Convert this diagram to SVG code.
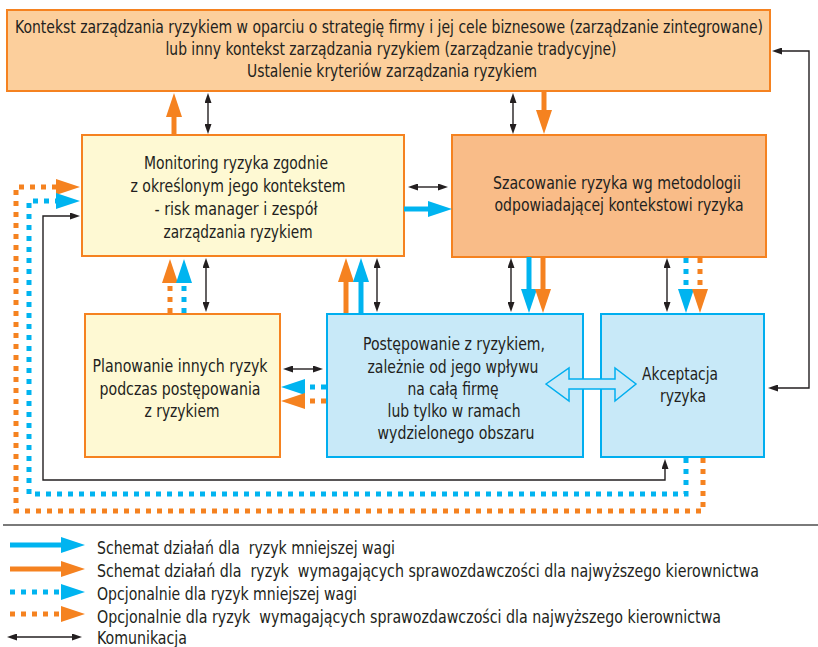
<svg xmlns="http://www.w3.org/2000/svg" width="818" height="647" viewBox="0 0 818 647">
<style>
text{font-family:"Liberation Sans Narrow","DejaVu Sans Condensed","Liberation Sans",sans-serif;font-size:18px;fill:#231F20;text-anchor:middle;white-space:pre}
.lg{text-anchor:start}
.box{stroke-width:2}
.or{stroke:#F58220}
.bl{stroke:#00AEEF}
.sol{fill:none;stroke-width:5}
.dot{fill:none;stroke-width:5;stroke-dasharray:5 6}
.com{fill:none;stroke:#231F20;stroke-width:1.4}
</style>
<defs>
<marker id="hO" markerUnits="userSpaceOnUse" markerWidth="24" markerHeight="16" refX="1" refY="8" orient="auto"><path d="M0,0 L24,8 L0,16 z" fill="#F58220"/></marker>
<marker id="hB" markerUnits="userSpaceOnUse" markerWidth="24" markerHeight="16" refX="1" refY="8" orient="auto"><path d="M0,0 L24,8 L0,16 z" fill="#00B4F0"/></marker>
<marker id="hK" markerUnits="userSpaceOnUse" markerWidth="10" markerHeight="7" refX="1" refY="3.5" orient="auto-start-reverse"><path d="M0,0 L10,3.5 L0,7 z" fill="#231F20"/></marker>
</defs>

<g id="node-kontekst">
<rect class="box or" x="7" y="10" width="763" height="81" fill="#FCCF9C"/>
<text x="389" y="33" textLength="748" lengthAdjust="spacingAndGlyphs">Kontekst zarządzania ryzykiem w oparciu o strategię firmy i jej cele biznesowe (zarządzanie zintegrowane)</text>
<text x="391" y="55" textLength="451" lengthAdjust="spacingAndGlyphs">lub inny kontekst zarządzania ryzykiem (zarządzanie tradycyjne)</text>
<text x="392" y="77" textLength="290" lengthAdjust="spacingAndGlyphs">Ustalenie kryteriów zarządzania ryzykiem</text>
</g>

<g id="node-monitoring">
<rect class="box or" x="82" y="135" width="322" height="121" fill="#FEF9D3"/>
<text x="236" y="169" textLength="184" lengthAdjust="spacingAndGlyphs">Monitoring ryzyka zgodnie</text>
<text x="238" y="192" textLength="215" lengthAdjust="spacingAndGlyphs">z określonym jego kontekstem</text>
<text x="236" y="215" textLength="163" lengthAdjust="spacingAndGlyphs">- risk manager i zespół</text>
<text x="238" y="238" textLength="149" lengthAdjust="spacingAndGlyphs">zarządzania ryzykiem</text>
</g>

<g id="node-szacowanie">
<rect class="box or" x="452" y="135" width="314" height="122" fill="#F9BC88"/>
<text x="617" y="189" textLength="248" lengthAdjust="spacingAndGlyphs">Szacowanie ryzyka wg metodologii</text>
<text x="619" y="211" textLength="249" lengthAdjust="spacingAndGlyphs">odpowiadającej kontekstowi ryzyka</text>
</g>

<g id="node-planowanie">
<rect class="box or" x="85" y="314" width="195" height="143" fill="#FEF9D3"/>
<text x="180" y="372" textLength="175" lengthAdjust="spacingAndGlyphs">Planowanie innych ryzyk</text>
<text x="180" y="395" textLength="161" lengthAdjust="spacingAndGlyphs">podczas postępowania</text>
<text x="182" y="417" textLength="75" lengthAdjust="spacingAndGlyphs">z ryzykiem</text>
</g>

<g id="node-postepowanie">
<rect class="box bl" x="327" y="314" width="256" height="143" fill="#C8E9F8"/>
<text x="454" y="350" textLength="182" lengthAdjust="spacingAndGlyphs">Postępowanie z ryzykiem,</text>
<text x="453" y="373" textLength="171" lengthAdjust="spacingAndGlyphs">zależnie od jego wpływu</text>
<text x="453" y="395" textLength="91" lengthAdjust="spacingAndGlyphs">na całą firmę</text>
<text x="454" y="417" textLength="133" lengthAdjust="spacingAndGlyphs">lub tylko w ramach</text>
<text x="456" y="439" textLength="157" lengthAdjust="spacingAndGlyphs">wydzielonego obszaru</text>
</g>

<g id="node-akceptacja">
<rect class="box bl" x="601" y="314" width="163" height="143" fill="#C8E9F8"/>
<text x="680" y="380" textLength="76" lengthAdjust="spacingAndGlyphs">Akceptacja</text>
<text x="683" y="402" textLength="46" lengthAdjust="spacingAndGlyphs">ryzyka</text>
</g>

<g id="connectors">
<path class="sol or" d="M174,135 V116" marker-end="url(#hO)"/>
<path class="com" d="M208,102 V125" marker-start="url(#hK)" marker-end="url(#hK)"/>
<path class="com" d="M513,102 V125" marker-start="url(#hK)" marker-end="url(#hK)"/>
<path class="sol or" d="M544,91 V111" marker-end="url(#hO)"/>
<path class="com" d="M417,187 H439" marker-start="url(#hK)" marker-end="url(#hK)"/>
<path class="sol bl" style="stroke:#00B4F0" d="M404,209 H429" marker-end="url(#hB)"/>
<path class="dot or" d="M703,458 V511 H16 V187 H57" marker-end="url(#hO)"/>
<path class="dot bl" style="stroke:#00B4F0" d="M686,458 V494 H29 V201 H57" marker-end="url(#hB)"/>
<path class="com" d="M665,468 V480 H43 V216 H71" marker-start="url(#hK)" marker-end="url(#hK)"/>
<path class="com" d="M781,51 H809 V388 H777" marker-start="url(#hK)" marker-end="url(#hK)"/>
<path class="dot or" d="M170,313 V282" marker-end="url(#hO)"/>
<path class="dot bl" style="stroke:#00B4F0" d="M184,313 V282" marker-end="url(#hB)"/>
<path class="com" d="M206,267 V303" marker-start="url(#hK)" marker-end="url(#hK)"/>
<path class="sol or" d="M346,313 V281" marker-end="url(#hO)"/>
<path class="sol bl" style="stroke:#00B4F0" d="M361,313 V281" marker-end="url(#hB)"/>
<path class="com" d="M377,267 V303" marker-start="url(#hK)" marker-end="url(#hK)"/>
<path class="com" d="M511,267 V303" marker-start="url(#hK)" marker-end="url(#hK)"/>
<path class="sol bl" style="stroke:#00B4F0" d="M529,257 V290" marker-end="url(#hB)"/>
<path class="sol or" d="M543,257 V290" marker-end="url(#hO)"/>
<path class="com" d="M667,267 V303" marker-start="url(#hK)" marker-end="url(#hK)"/>
<path class="dot bl" style="stroke:#00B4F0" d="M686,258 V290" marker-end="url(#hB)"/>
<path class="dot or" d="M700,258 V290" marker-end="url(#hO)"/>
<path class="com" d="M292,369 H314" marker-start="url(#hK)" marker-end="url(#hK)"/>
<path class="dot bl" style="stroke:#00B4F0" d="M326,387 H304" marker-end="url(#hB)"/>
<path class="dot or" d="M326,401 H304" marker-end="url(#hO)"/>
<polygon points="546,384 569,368 569,379 615,379 615,368 636,384 615,401 615,389 569,389 569,401" fill="#C8E9F8" stroke="#00AEEF" stroke-width="1.5"/>
</g>

<g id="legend">
<line x1="3" y1="525" x2="818" y2="525" stroke="#7A7A7A" stroke-width="2"/>
<path class="sol bl" style="stroke:#00B4F0" d="M10,545 H62" marker-end="url(#hB)"/>
<path class="sol or" d="M10,569 H62" marker-end="url(#hO)"/>
<path class="dot bl" style="stroke:#00B4F0" d="M10,592 H62" marker-end="url(#hB)"/>
<path class="dot or" d="M10,614 H62" marker-end="url(#hO)"/>
<path class="com" d="M16,637 H73" marker-start="url(#hK)" marker-end="url(#hK)"/>
<text class="lg" x="97" y="554" textLength="298" lengthAdjust="spacingAndGlyphs">Schemat działań dla  ryzyk mniejszej wagi</text>
<text class="lg" x="97" y="577" textLength="662" lengthAdjust="spacingAndGlyphs">Schemat działań dla  ryzyk  wymagających sprawozdawczości dla najwyższego kierownictwa</text>
<text class="lg" x="97" y="600" textLength="260" lengthAdjust="spacingAndGlyphs">Opcjonalnie dla ryzyk mniejszej wagi</text>
<text class="lg" x="97" y="623" textLength="624" lengthAdjust="spacingAndGlyphs">Opcjonalnie dla ryzyk  wymagających sprawozdawczości dla najwyższego kierownictwa</text>
<text class="lg" x="97" y="644" textLength="90" lengthAdjust="spacingAndGlyphs">Komunikacja</text>
</g>
</svg>
